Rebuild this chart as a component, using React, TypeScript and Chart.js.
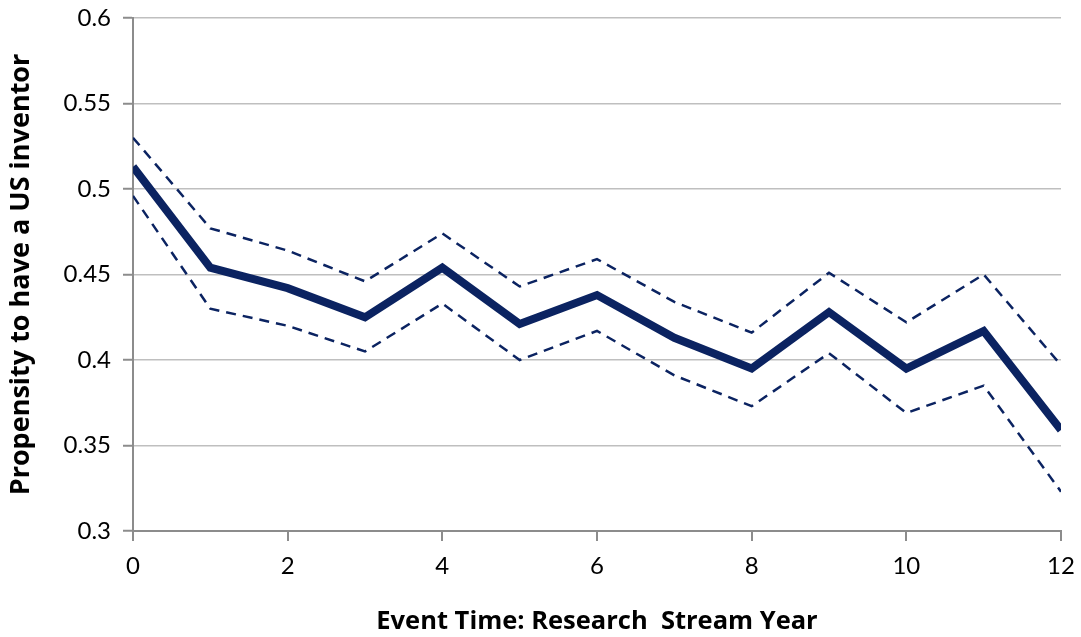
import React, { useEffect, useRef } from "react";
import { Chart, registerables } from "chart.js";

Chart.register(...registerables);

// Research stream year (event time)
const years = [0, 1, 2, 3, 4, 5, 6, 7, 8, 9, 10, 11, 12];
// Point estimate of the propensity to have a US inventor
const estimate = [0.513, 0.454, 0.442, 0.425, 0.454, 0.421, 0.438, 0.413, 0.395, 0.428, 0.395, 0.417, 0.359];
// Upper and lower confidence bounds
const upperBound = [0.53, 0.477, 0.464, 0.446, 0.474, 0.443, 0.459, 0.434, 0.416, 0.451, 0.422, 0.45, 0.397];
const lowerBound = [0.496, 0.43, 0.42, 0.405, 0.433, 0.4, 0.417, 0.391, 0.373, 0.404, 0.369, 0.385, 0.323];

const xTitle = "Event Time: Research  Stream Year";
const yTitle = "Propensity to have a US inventor";

const NAVY = "#0b2361";
const TICK_FONT = "Lato, 'Open Sans', sans-serif";
const TITLE_FONT = "'Open Sans', Lato, sans-serif";

const toPoints = (vals: number[]) => vals.map((v, i) => ({ x: years[i], y: v }));

export default function App() {
  const canvasRef = useRef<HTMLCanvasElement | null>(null);

  useEffect(() => {
    document.body.style.margin = "0";
    const canvas = canvasRef.current;
    if (!canvas) return;
    const chart = new Chart(canvas, {
      type: "line",
      data: {
        datasets: [
          {
            data: toPoints(upperBound),
            borderColor: NAVY,
            borderWidth: 2.5,
            borderDash: [10, 7],
            pointRadius: 0,
            fill: false,
            tension: 0,
          },
          {
            data: toPoints(lowerBound),
            borderColor: NAVY,
            borderWidth: 2.5,
            borderDash: [10, 7],
            pointRadius: 0,
            fill: false,
            tension: 0,
          },
          {
            data: toPoints(estimate),
            borderColor: NAVY,
            borderWidth: 8,
            borderJoinStyle: "miter",
            pointRadius: 0,
            fill: false,
            tension: 0,
          },
        ],
      },
      options: {
        animation: false,
        responsive: false,
        maintainAspectRatio: false,
        layout: { padding: 0 },
        plugins: {
          legend: { display: false },
          tooltip: { enabled: false },
        },
        scales: {
          x: {
            type: "linear",
            min: 0,
            max: 12,
            afterFit: (scale: any) => {
              scale.height = 106;
              scale.paddingRight = 20;
              scale.paddingLeft = 0;
            },
            ticks: {
              stepSize: 2,
              color: "#000",
              padding: 11,
              maxRotation: 0,
              font: { family: TICK_FONT, size: 24 },
            },
            grid: {
              drawOnChartArea: false,
              drawTicks: true,
              tickLength: 10,
              color: "#8c8c8c",
              lineWidth: 2,
            },
            border: { color: "#8c8c8c", width: 2 },
            title: {
              display: true,
              text: xTitle,
              color: "#000",
              font: { family: TITLE_FONT, size: 25.5, weight: "bold" },
              padding: { top: 0, bottom: 0 },
            },
          },
          y: {
            type: "linear",
            min: 0.3,
            max: 0.6,
            afterFit: (scale: any) => {
              scale.width = 133;
              scale.paddingTop = 18;
              scale.paddingBottom = 0;
            },
            ticks: {
              stepSize: 0.05,
              color: "#000",
              padding: 12,
              font: { family: TICK_FONT, size: 24 },
              callback: (v: any) => String(Math.round(Number(v) * 100) / 100),
            },
            grid: {
              color: "#bfbfbf",
              lineWidth: 1.5,
              drawTicks: true,
              tickLength: 10,
              tickColor: "#8c8c8c",
              tickWidth: 2,
            },
            border: { color: "#8c8c8c", width: 2 },
            title: {
              display: true,
              text: yTitle,
              color: "#000",
              font: { family: TITLE_FONT, size: 27, weight: "bold" },
              padding: { top: 5, bottom: 0 },
            },
          },
        },
      },
    });
    return () => chart.destroy();
  }, []);

  return (
    <div style={{ position: "absolute", left: 0, top: 0, width: 1081, height: 637, background: "#fff" }}>
      <canvas ref={canvasRef} width={1081} height={637} style={{ width: 1081, height: 637 }} />
    </div>
  );
}
